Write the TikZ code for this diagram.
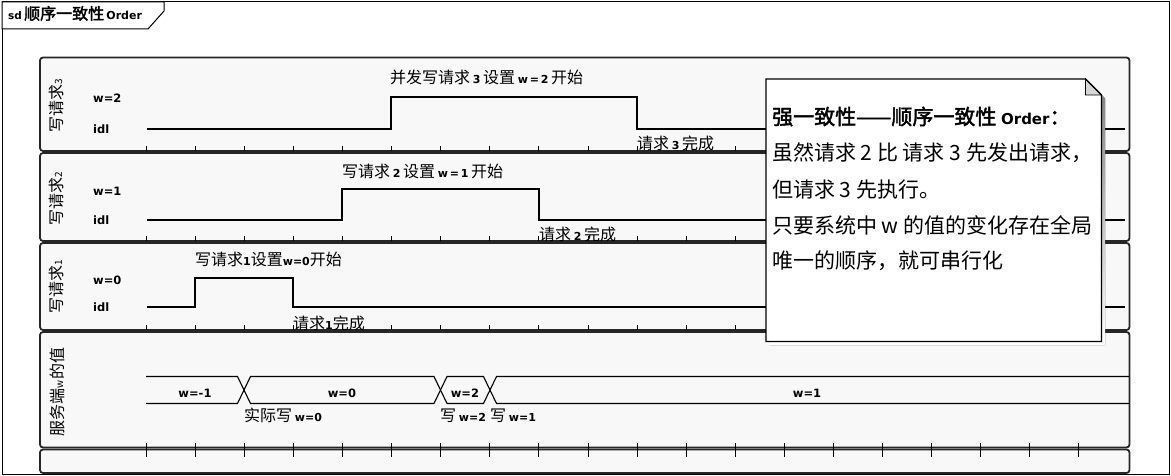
\documentclass[tikz,border=0pt]{standalone}
\usepackage{fontspec}
\setmainfont{Noto Sans CJK SC}[AutoFakeBold=2]
\newfontfamily\latf{DejaVu Sans}
\newcommand\wl[1]{{\latf\bfseries\fontsize{11}{13}\selectfont #1}}
\newcommand\sm[1]{{\fontsize{10}{12}\selectfont #1}}
\definecolor{lanebg}{HTML}{F8F8F8}
\definecolor{lanedraw}{HTML}{262626}
\definecolor{shade}{HTML}{D6D6D6}
\begin{document}
\begin{tikzpicture}[x=1pt,y=-1pt,
  lane/.style={draw=lanedraw, line width=1.8pt, fill=lanebg, rounded corners=3pt},
  sig/.style={line width=1.1pt, black, line join=miter},
  tk/.style={line width=0.9pt, black},
  lbl/.style={anchor=base west, inner sep=0pt, font=\fontsize{16}{18}\selectfont},
  val/.style={anchor=base west, inner sep=0pt, font=\latf\bfseries\fontsize{11.5}{13}\selectfont},
  busval/.style={anchor=base, inner sep=0pt, font=\latf\bfseries\fontsize{11.5}{13}\selectfont},
  rot/.style={rotate=90, inner sep=0pt, font=\fontsize{16}{18}\selectfont},
  notetxt/.style={anchor=base west, inner sep=0pt, font=\fontsize{21}{24}\selectfont}]
\useasboundingbox (0,0) rectangle (1171,476);
% outer frame
\draw[line width=1pt, fill=white] (2,2) rectangle (1169,474);
\draw[line width=1pt, fill=white] (2,2) -- (164,2) -- (164,11) -- (148,29) -- (2,29) -- cycle;
\node[anchor=base west, inner sep=0pt] (title) at (8,19.5)
  {{\latf\bfseries\fontsize{10.5}{12}\selectfont sd} {\bfseries\fontsize{16}{18}\selectfont 顺序一致性} {\latf\bfseries\fontsize{11}{12}\selectfont Order}};

% ---------- lane 1 ----------
\draw[lane] (40,57.5) rectangle (1129.5,151);
\node[rot] (r3) at (56,106) {写请求\sm{3}};
\node[val] (l1a) at (93,103) {w=2};
\node[val] (l1b) at (93,134) {idl};
\draw[sig] (147,129) -- (391,129) -- (391,97) -- (637,97) -- (637,129) -- (1125,129);
\node[lbl] (e3s) at (390,84) {并发写请求\,\wl{3}\,设置\,\wl{w\,=\,2}\,开始};
\node[lbl] (e3e) at (637,150) {请求\,\wl{3}\,完成};
\foreach \k in {0,...,19} \draw[tk] ({146.5+49.05*\k},146) -- ++(0,5);

% ---------- lane 2 ----------
\draw[lane] (40,153) rectangle (1129.5,241);
\node[rot] (r2) at (56,199) {写请求\sm{2}};
\node[val] (l2a) at (93,195.5) {w=1};
\node[val] (l2b) at (93,224.5) {idl};
\draw[sig] (147,220) -- (342,220) -- (342,189) -- (539,189) -- (539,220) -- (1125,220);
\node[lbl] (e2s) at (342,177.5) {写请求\,\wl{2}\,设置\,\wl{w\,=\,1}\,开始};
\node[lbl] (e2e) at (539,240.5) {请求\,\wl{2}\,完成};
\foreach \k in {0,...,19} \draw[tk] ({146.5+49.05*\k},236) -- ++(0,5);

% ---------- lane 3 ----------
\draw[lane] (40,243) rectangle (1129.5,330);
\node[rot] (r1) at (56,287) {写请求\sm{1}};
\node[val] (l3a) at (93,284) {w=0};
\node[val] (l3b) at (93,311.5) {idl};
\draw[sig] (147,307) -- (195,307) -- (195,278) -- (293,278) -- (293,307) -- (1125,307);
\node[lbl] (e1s) at (195,265.5) {写请求\wl{1}设置\wl{w=0}开始};
\node[lbl] (e1e) at (293,329.5) {请求\wl{1}完成};
\foreach \k in {0,...,19} \draw[tk] ({146.5+49.05*\k},325) -- ++(0,5);

% ---------- lane 4 ----------
\draw[lane] (40,332) rectangle (1129.5,447.5);
\node[rot] (rs) at (57,392) {服务端\sm{w}的值};
\draw[sig] (146,376.5) -- (237.5,376.5) -- (250.5,403.5) -- (434,403.5) -- (447,376.5) -- (483.5,376.5) -- (496.5,403.5) -- (1129,403.5);
\draw[sig] (146,403.5) -- (237.5,403.5) -- (250.5,376.5) -- (434,376.5) -- (447,403.5) -- (483.5,403.5) -- (496.5,376.5) -- (1129,376.5);
\node[busval] (v0) at (195,397) {w=-1};
\node[busval] (v1) at (342,397) {w=0};
\node[busval] (v2) at (465,397) {w=2};
\node[busval] (v3) at (807,397) {w=1};
\node[lbl] (a0) at (244,421.5) {实际写\,\wl{w=0}};
\node[lbl] (a1) at (440,421.5) {写\,\wl{w=2}};
\node[lbl] (a2) at (490,421.5) {写\,\wl{w=1}};

% ---------- lane 5 (time axis) ----------
\draw[lane] (40,449.5) rectangle (1129.5,473);
\foreach \k in {0,...,19} \draw[tk] ({146.5+49.05*\k},443) -- ++(0,14);

% ---------- note ----------
\fill[shade] (769.5,82.5) -- (1089,82.5) -- (1105,98.5) -- (1105,345) -- (769.5,345) -- cycle;
\draw[line width=1.1pt, fill=white] (766,79) -- (1085.5,79) -- (1101.5,95) -- (1101.5,341.5) -- (766,341.5) -- cycle;
\draw[line width=0.8pt, fill=shade] (1085.5,79) -- (1085.5,95) -- (1101.5,95) -- cycle;
\draw[line width=1.1pt] (1085.5,79) -- (1101.5,95);
\node[notetxt] (n1) at (772,124.5) {\bfseries 强一致性——顺序一致性 {\latf\fontsize{15}{18}\selectfont Order}：};
\node[notetxt] (n2) at (772,161) {虽然请求 2 比 请求 3 先发出请求，};
\node[notetxt] (n3) at (772,197.5) {但请求 3 先执行。};
\node[notetxt] (n4) at (772,233.5) {只要系统中 w 的值的变化存在全局};
\node[notetxt] (n5) at (772,269) {唯一的顺序，就可串行化};
\end{tikzpicture}
\end{document}
